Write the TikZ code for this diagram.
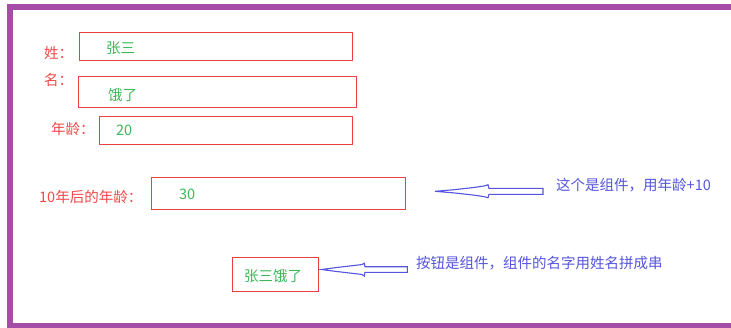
\documentclass[tikz,border=0pt]{standalone}
\usepackage{fontspec}
\newfontfamily\cjk{Noto Sans CJK SC}
\definecolor{framepurple}{HTML}{A54CA6}
\definecolor{boxred}{HTML}{E84040}
\definecolor{labred}{HTML}{F04A4A}
\definecolor{valgreen}{HTML}{3DB85A}
\definecolor{noteblue}{HTML}{5555DD}
\tikzset{
  lab/.style={anchor=west, inner sep=0pt, text=labred, font=\cjk\fontsize{14.5}{16}\selectfont},
  val/.style={anchor=west, inner sep=0pt, text=valgreen, font=\cjk\fontsize{14.5}{16}\selectfont},
  note/.style={anchor=west, inner sep=0pt, text=noteblue, font=\cjk\fontsize{14.5}{16}\selectfont},
  fieldbox/.style={draw=boxred, line width=1.1pt, anchor=north west, inner sep=0pt},
  fatarrow/.style={draw=noteblue, line width=1.1pt, line join=miter},
}
\begin{document}
\begin{tikzpicture}[x=1pt,y=-1pt]
\useasboundingbox (0,0) rectangle (731,327);
\clip (0,0) rectangle (731,327);
\fill[white] (0,0) rectangle (731,327);
% frame
\draw[framepurple, line width=6pt] (10,7) rectangle (745,326);
% boxes
\node[fieldbox, minimum width=272.7pt, minimum height=28pt] (b1) at (79,32.3) {};
\node[fieldbox, minimum width=278pt, minimum height=31pt] (b2) at (78,75.7) {};
\node[fieldbox, minimum width=253pt, minimum height=27.7pt] (b3) at (99.3,116.3) {};
\node[fieldbox, minimum width=254pt, minimum height=31.4pt] (b4) at (151,177.3) {};
\node[fieldbox, minimum width=85.4pt, minimum height=34.6pt] (b5) at (232.3,256.7) {};
% labels
\node[lab] (l1) at (44,53) {姓：};
\node[lab] (l2) at (44,80) {名：};
\node[lab] (l3) at (51,129) {年龄：};
\node[lab] (l4) at (39,197) {10年后的年龄：};
% values
\node[val] (v1) at (106,48) {张三};
\node[val] (v2) at (108,95) {饿了};
\node[val] (v3) at (116,130) {20};
\node[val] (v4) at (179,194) {30};
\node[val] (v5) at (244,276) {张三饿了};
% notes
\node[note] (n1) at (556,185) {这个是组件，用年龄+10};
\node[note] (n2) at (416,263) {按钮是组件，组件的名字用姓名拼成串};
% arrows
\draw[fatarrow] (435,191.3) -- (453,189.8) -- (473,187.6) -- (484,186) -- (488,184.8)
  -- (489,188.3) -- (543,188.3) -- (543,194.3) -- (489,194.3) -- (488,197.8)
  -- (484,196.6) -- (473,195) -- (453,192.8) -- cycle;
\draw[fatarrow] (321.7,269.5) -- (335,267.7) -- (361.7,264.6) -- (364.3,263.3)
  -- (365,266.7) -- (407.3,266.7) -- (407.3,272.3) -- (365,272.3) -- (364.3,276)
  -- (361.7,274.4) -- (335,271.3) -- cycle;
\end{tikzpicture}
\end{document}
